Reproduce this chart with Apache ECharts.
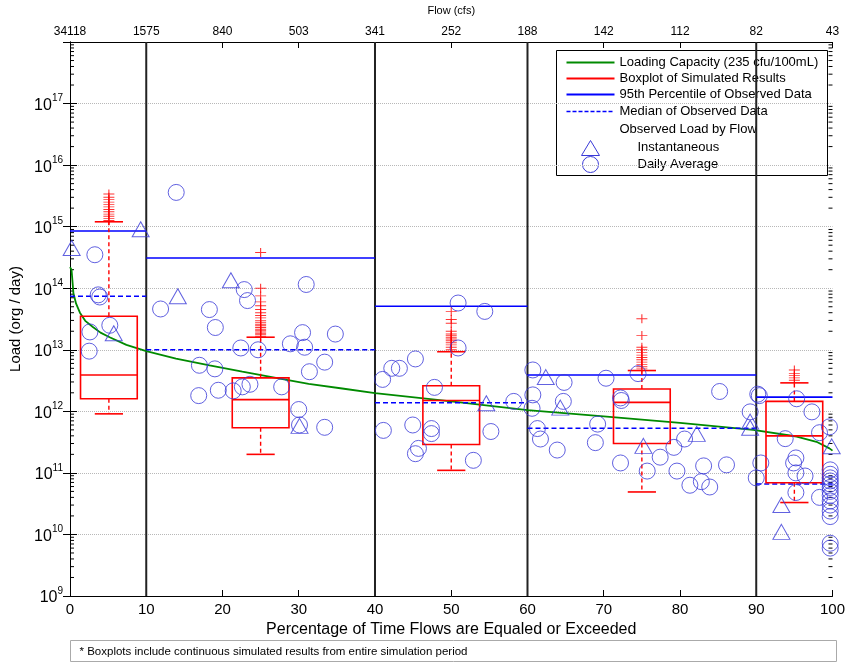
<!DOCTYPE html>
<html><head><meta charset="utf-8">
<script src="https://cdn.jsdelivr.net/npm/echarts@6/dist/echarts.min.js"></script>
<style>html,body{margin:0;padding:0;background:#fff}#c{width:848px;height:663px}</style>
</head><body><div id="c"></div>
<script>
// ---------------- data ----------------
const xTicks = [0, 10, 20, 30, 40, 50, 60, 70, 80, 90, 100];
const flowLabels = ['34118', '1575', '840', '503', '341', '252', '188', '142', '112', '82', '43'];
const zoneBounds = [10, 40, 60, 90];

// Loading capacity curve (percent exceedance, load)
const capacityPct  = [0, 0.2, 0.45, 0.8, 1.3, 2, 3, 4, 5.2, 7.4, 10, 13.9, 18.3, 22.6, 27, 31.3, 35.7, 40, 50, 60, 70, 80, 89.6, 95.3, 97.9, 99.6, 100];
const capacityLoad = [2.2e14, 2.0e14, 8.3e13, 5.6e13, 4.0e13, 2.95e13, 2.35e13, 1.9e13, 1.6e13, 1.2e13, 9.5e12, 7.2e12, 5.6e12, 4.4e12, 3.5e12, 2.8e12, 2.35e12, 1.98e12, 1.45e12, 1.05e12, 8.3e11, 6.5e11, 5.0e11, 3.9e11, 3.2e11, 2.5e11, 2.3e11];

// Boxplots: [center, lower whisker, q1, median, q3, upper whisker]
const boxStats = [
  [5.1, 9.1e11, 1.6e12, 3.9e12, 3.5e13, 1.2e15],
  [25, 2.0e11, 5.4e11, 1.55e12, 3.5e12, 1.6e13],
  [50, 1.1e11, 2.9e11, 1.5e12, 2.6e12, 9.3e12],
  [75, 4.9e10, 3.0e11, 1.4e12, 2.3e12, 4.6e12],
  [95, 3.3e10, 6.9e10, 4.0e11, 1.45e12, 2.9e12]
];
const outliersBox1 = [1.26e15, 1.35e15, 1.48e15, 1.6e15, 1.75e15, 1.9e15, 2.1e15, 2.3e15, 2.5e15, 2.75e15, 3.0e15, 3.4e15];
const outliersBox2 = [1.65e13, 1.75e13, 1.85e13, 1.95e13, 2.05e13, 2.15e13, 2.3e13, 2.45e13, 2.6e13, 2.8e13, 3.0e13, 3.3e13, 3.6e13, 4.0e13, 4.5e13, 5.2e13, 6.0e13, 7.5e13, 1.0e14, 3.8e14];
const outliersBox3 = [1.0e13, 1.1e13, 1.2e13, 1.3e13, 1.4e13, 1.5e13, 1.6e13, 1.7e13, 1.8e13, 2.0e13, 2.7e13, 3.1e13, 4.2e13];
const outliersBox4 = [4.9e12, 5.3e12, 5.8e12, 6.3e12, 6.9e12, 7.5e12, 8.2e12, 9.0e12, 1.0e13, 1.1e13, 1.7e13, 3.2e13];
const outliersBox5 = [3.2e12, 3.5e12, 3.8e12, 4.1e12, 4.7e12];

// Observed statistics per flow zone: [from, to, load]
const pct95Segments = [[0, 10, 8.5e14], [10, 40, 3.1e14], [40, 60, 5.1e13], [60, 90, 3.9e12], [90, 100, 1.7e12]];
const medianSegments = [[0, 10, 7.4e13], [10, 40, 1.0e13], [40, 60, 1.38e12], [60, 90, 5.3e11], [90, 100, 6.6e10]];

// Observed loads: instantaneous (triangles)
const instantaneous = [
  [0.22, 4.5e14], [9.27, 9.1e14], [5.74, 1.86e13], [14.14, 7.4e13], [21.1, 1.35e14], [30.1, 5.8e11],
  [54.6, 1.35e12], [62.4, 3.6e12], [64.3, 1.15e12], [75.2, 2.75e11], [82.2, 4.3e11], [89.2, 6.8e11],
  [89.2, 5.4e11], [99.9, 2.7e11], [93.3, 3.0e10], [93.3, 1.1e10]
];
// Observed loads: daily average (circles)
const dailyAverage = [
  [3.26, 3.5e14], [3.7, 7.8e13], [3.9, 7.2e13], [5.22, 2.5e13], [2.61, 1.95e13], [2.52, 9.5e12],
  [13.93, 3.6e15], [11.88, 4.6e13], [22.85, 9.5e13], [23.28, 6.3e13], [18.28, 4.5e13], [19.06, 2.3e13],
  [22.4, 1.07e13], [24.67, 1.0e13], [16.97, 5.6e12], [19.0, 4.9e12], [16.88, 1.8e12], [19.45, 2.2e12],
  [21.4, 2.15e12], [22.6, 2.5e12], [23.6, 2.75e12], [27.76, 2.5e12], [28.9, 1.25e13], [30.5, 1.9e13],
  [30.77, 1.1e13], [30.98, 1.15e14], [34.8, 1.8e13], [33.4, 6.3e12], [31.4, 4.4e12], [30.0, 1.07e12],
  [30.1, 6.0e11], [33.4, 5.5e11],
  [50.9, 5.75e13], [54.4, 4.2e13], [50.9, 1.07e13], [45.3, 7.1e12], [43.2, 5.0e12], [42.2, 5.0e12],
  [41.0, 3.3e12], [47.8, 2.45e12], [58.2, 1.45e12], [41.1, 4.9e11], [44.95, 6.0e11], [47.4, 5.25e11],
  [47.4, 4.35e11], [45.7, 2.5e11], [45.3, 2.05e11], [55.2, 4.7e11], [52.9, 1.6e11],
  [60.7, 4.7e12], [64.8, 2.95e12], [70.3, 3.45e12], [60.7, 1.85e12], [60.6, 1.12e12], [64.7, 1.45e12],
  [61.3, 5.25e11], [61.7, 3.55e11], [63.9, 2.35e11], [69.2, 6.2e11], [68.9, 3.1e11], [72.2, 1.65e12],
  [72.3, 1.5e12], [74.5, 4.1e12], [85.2, 2.1e12], [72.2, 1.45e11], [75.7, 1.07e11], [77.4, 1.8e11],
  [79.2, 2.6e11], [80.6, 3.55e11], [79.6, 1.07e11], [81.3, 6.3e10], [82.8, 7.2e10], [83.9, 5.9e10],
  [83.1, 1.3e11], [86.1, 1.35e11], [89.2, 9.8e11],
  [90.2, 1.9e12], [90.4, 1.8e12], [95.3, 1.6e12], [97.3, 9.8e11], [98.3, 4.5e11], [99.6, 5.6e11],
  [93.8, 3.6e11], [90.6, 1.45e11], [90.0, 8.3e10], [95.2, 1.75e11], [94.9, 1.45e11], [95.2, 1.0e11],
  [96.4, 8.9e10], [95.2, 4.8e10], [98.3, 4.0e10],
  [99.7, 1.12e11], [99.7, 9.5e10], [99.7, 8.3e10], [99.7, 7.4e10], [99.7, 6.6e10], [99.7, 5.8e10],
  [99.7, 5.0e10], [99.7, 4.3e10], [99.7, 3.5e10], [99.7, 3.0e10], [99.7, 2.4e10], [99.7, 1.95e10],
  [99.7, 7.2e9], [99.7, 6.0e9]
];

// ---------------- styling ----------------
const NARROW = "'Liberation Sans Narrow', 'Arial Narrow', 'Liberation Sans', Arial, sans-serif";
const ARIAL = "'Liberation Sans', Arial, sans-serif";
const BLUE = '#0000ff';
const MARK = '#3a3ad8';
const RED = '#ff0000';
const GREEN = '#008a00';

// minor ticks of the log axis (2..9 in each decade)
const minorTicks = [];
for (let d = 9; d < 18; d++) for (let k = 2; k <= 9; k++) minorTicks.push([0, k * Math.pow(10, d)]);

const outlierData = [];
[outliersBox1, outliersBox2, outliersBox3, outliersBox4, outliersBox5].forEach((arr, i) => {
  arr.forEach(v => outlierData.push([boxStats[i][0], v]));
});

function segRenderer(dash) {
  return function (params, api) {
    const a = api.coord([api.value(0), api.value(2)]);
    const b = api.coord([api.value(1), api.value(2)]);
    return { type: 'line', shape: { x1: a[0], y1: a[1], x2: b[0], y2: b[1] },
      style: { stroke: BLUE, lineWidth: 1.6, lineDash: dash } };
  };
}

const chart = echarts.init(document.getElementById('c'), null, { renderer: 'canvas' });
const axisLine = { show: true, lineStyle: { color: '#000', width: 1 } };
chart.setOption({
  animation: false,
  backgroundColor: '#fff',
  grid: { left: 70, right: 12, top: 42, bottom: 67, containLabel: false },
  xAxis: [{
    type: 'value', min: 0, max: 100, interval: 10, position: 'bottom',
    axisLine, axisTick: { show: true, inside: true, length: 6, lineStyle: { color: '#000' } },
    axisLabel: { color: '#000', fontFamily: NARROW, fontSize: 15, margin: 6 },
    splitLine: { show: false },
    name: 'Percentage of Time Flows are Equaled or Exceeded', nameLocation: 'middle', nameGap: 24,
    nameTextStyle: { color: '#000', fontFamily: NARROW, fontSize: 16 }
  }, {
    type: 'value', min: 0, max: 100, interval: 10, position: 'top',
    axisLine, axisTick: { show: true, inside: true, length: 6, lineStyle: { color: '#000' } },
    axisLabel: { color: '#000', fontFamily: NARROW, fontSize: 12, margin: 4,
      formatter: v => flowLabels[xTicks.indexOf(v)] },
    splitLine: { show: false },
    name: 'Flow (cfs)', nameLocation: 'middle', nameGap: 26,
    nameTextStyle: { color: '#000', fontFamily: NARROW, fontSize: 11 }
  }],
  yAxis: [{
    type: 'log', logBase: 10, min: 1e9, max: 1e18, splitNumber: 9,
    axisLine, axisTick: { show: true, inside: true, length: 7, lineStyle: { color: '#000' } },
    axisLabel: {
      showMaxLabel: false, margin: 7,
      formatter: v => '{b|10}{e|' + Math.round(Math.log10(v)) + '}',
      rich: {
        b: { fontFamily: ARIAL, fontSize: 16, color: '#000', lineHeight: 20, verticalAlign: 'bottom' },
        e: { fontFamily: ARIAL, fontSize: 10, color: '#000', lineHeight: 20, verticalAlign: 'top' }
      }
    },
    splitLine: { show: true, lineStyle: { color: '#b8b8b8', type: 'dotted', width: 1 } },
    name: 'Load (org / day)', nameLocation: 'middle', nameGap: 44,
    nameTextStyle: { color: '#000', fontFamily: ARIAL, fontSize: 15 }
  }, {
    type: 'log', logBase: 10, min: 1e9, max: 1e18, splitNumber: 9, position: 'right',
    axisLine, axisTick: { show: true, inside: true, length: 7, lineStyle: { color: '#000' } },
    axisLabel: { show: false }, splitLine: { show: false }
  }],
  series: [
    { type: 'custom', name: 'minor', data: minorTicks, silent: true, z: 1,
      renderItem(params, api) {
        const y = api.coord([0, api.value(1)])[1];
        const cs = params.coordSys;
        return { type: 'group', children: [
          { type: 'line', shape: { x1: cs.x, y1: y, x2: cs.x + 4, y2: y }, style: { stroke: '#000', lineWidth: 1 } },
          { type: 'line', shape: { x1: cs.x + cs.width, y1: y, x2: cs.x + cs.width - 4, y2: y }, style: { stroke: '#000', lineWidth: 1 } }
        ] };
      } },
    { type: 'custom', name: 'zones', data: zoneBounds.map(v => [v, 1e9]), silent: true, z: 2,
      renderItem(params, api) {
        const x = api.coord([api.value(0), 1e9])[0];
        const cs = params.coordSys;
        return { type: 'line', shape: { x1: x, y1: cs.y, x2: x, y2: cs.y + cs.height },
          style: { stroke: '#222', lineWidth: 2 } };
      } },
    { type: 'line', name: 'Loading Capacity', data: capacityPct.map((p, i) => [p, capacityLoad[i]]),
      showSymbol: false, smooth: false, lineStyle: { color: GREEN, width: 1.8 }, z: 3 },
    { type: 'custom', name: '95th', data: pct95Segments, renderItem: segRenderer(null), z: 4 },
    { type: 'custom', name: 'median', data: medianSegments, renderItem: segRenderer([5, 3]), z: 4 },
    { type: 'custom', name: 'boxes', data: boxStats, z: 5,
      renderItem(params, api) {
        const c = api.value(0);
        const lo = api.coord([c, api.value(1)])[1];
        const q1 = api.coord([c, api.value(2)])[1];
        const md = api.coord([c, api.value(3)])[1];
        const q3 = api.coord([c, api.value(4)])[1];
        const hi = api.coord([c, api.value(5)])[1];
        const xc = api.coord([c, api.value(3)])[0];
        const xl = api.coord([c - 3.72, api.value(3)])[0];
        const xr = api.coord([c + 3.72, api.value(3)])[0];
        const cl = api.coord([c - 1.85, api.value(3)])[0];
        const cr = api.coord([c + 1.85, api.value(3)])[0];
        const st = { stroke: RED, lineWidth: 1.6, fill: null };
        return { type: 'group', children: [
          { type: 'line', shape: { x1: xc, y1: q3, x2: xc, y2: hi }, style: { stroke: RED, lineWidth: 1.4, lineDash: [4, 3] } },
          { type: 'line', shape: { x1: xc, y1: q1, x2: xc, y2: lo }, style: { stroke: RED, lineWidth: 1.4, lineDash: [4, 3] } },
          { type: 'line', shape: { x1: cl, y1: hi, x2: cr, y2: hi }, style: st },
          { type: 'line', shape: { x1: cl, y1: lo, x2: cr, y2: lo }, style: st },
          { type: 'rect', shape: { x: xl, y: q3, width: xr - xl, height: q1 - q3 }, style: st },
          { type: 'line', shape: { x1: xl, y1: md, x2: xr, y2: md }, style: st }
        ] };
      } },
    { type: 'scatter', name: 'outliers', data: outlierData, symbol: 'path://M0,5L10,5M5,0L5,10',
      symbolSize: [11, 9], itemStyle: { color: 'rgba(0,0,0,0)', borderColor: RED, borderWidth: 1 }, z: 6 },
    { type: 'scatter', name: 'Instantaneous', data: instantaneous, symbol: 'triangle', symbolSize: [17, 15],
      itemStyle: { color: 'rgba(0,0,0,0)', borderColor: MARK, borderWidth: 1 }, z: 7 },
    { type: 'scatter', name: 'Daily Average', data: dailyAverage, symbol: 'circle', symbolSize: 16,
      itemStyle: { color: 'rgba(0,0,0,0)', borderColor: MARK, borderWidth: 1 }, z: 7 }
  ],
  graphic: [
    { type: 'group', left: 556, top: 50, z: 100, children: [
      { type: 'rect', shape: { x: 0, y: 0, width: 271, height: 125 }, style: { fill: '#fff', stroke: '#000', lineWidth: 1 } },
      { type: 'line', shape: { x1: 10, y1: 12, x2: 58, y2: 12 }, style: { stroke: GREEN, lineWidth: 1.8 } },
      { type: 'line', shape: { x1: 10, y1: 28, x2: 58, y2: 28 }, style: { stroke: RED, lineWidth: 1.8 } },
      { type: 'line', shape: { x1: 10, y1: 44, x2: 58, y2: 44 }, style: { stroke: BLUE, lineWidth: 1.8 } },
      { type: 'line', shape: { x1: 10, y1: 61, x2: 58, y2: 61 }, style: { stroke: BLUE, lineWidth: 1.6, lineDash: [4, 2] } },
      { type: 'polygon', shape: { points: [[34, 90], [25, 105], [43, 105]] }, style: { fill: null, stroke: MARK, lineWidth: 1 } },
      { type: 'circle', shape: { cx: 34, cy: 114, r: 8 }, style: { fill: null, stroke: MARK, lineWidth: 1 } },
      { type: 'text', x: 63, y: 12, style: { text: 'Loading Capacity (235 cfu/100mL)', font: '13px ' + ARIAL, fill: '#000', verticalAlign: 'middle' } },
      { type: 'text', x: 63, y: 28, style: { text: 'Boxplot of Simulated Results', font: '13px ' + ARIAL, fill: '#000', verticalAlign: 'middle' } },
      { type: 'text', x: 63, y: 44, style: { text: '95th Percentile of Observed Data', font: '13px ' + ARIAL, fill: '#000', verticalAlign: 'middle' } },
      { type: 'text', x: 63, y: 61, style: { text: 'Median of Observed Data', font: '13px ' + ARIAL, fill: '#000', verticalAlign: 'middle' } },
      { type: 'text', x: 63, y: 79, style: { text: 'Observed Load by Flow', font: '13px ' + ARIAL, fill: '#000', verticalAlign: 'middle' } },
      { type: 'text', x: 81, y: 97, style: { text: 'Instantaneous', font: '13px ' + ARIAL, fill: '#000', verticalAlign: 'middle' } },
      { type: 'text', x: 81, y: 114, style: { text: 'Daily Average', font: '13px ' + ARIAL, fill: '#000', verticalAlign: 'middle' } }
    ] },
    { type: 'group', left: 70, top: 640, z: 100, children: [
      { type: 'rect', shape: { x: 0, y: 0, width: 766, height: 21 }, style: { fill: '#fff', stroke: '#aaa', lineWidth: 1 } },
      { type: 'text', x: 9, y: 11, style: { text: '* Boxplots include continuous simulated results from entire simulation period', font: '11.5px ' + NARROW, fill: '#000', verticalAlign: 'middle' } }
    ] }
  ]
});
</script>
</body></html>
